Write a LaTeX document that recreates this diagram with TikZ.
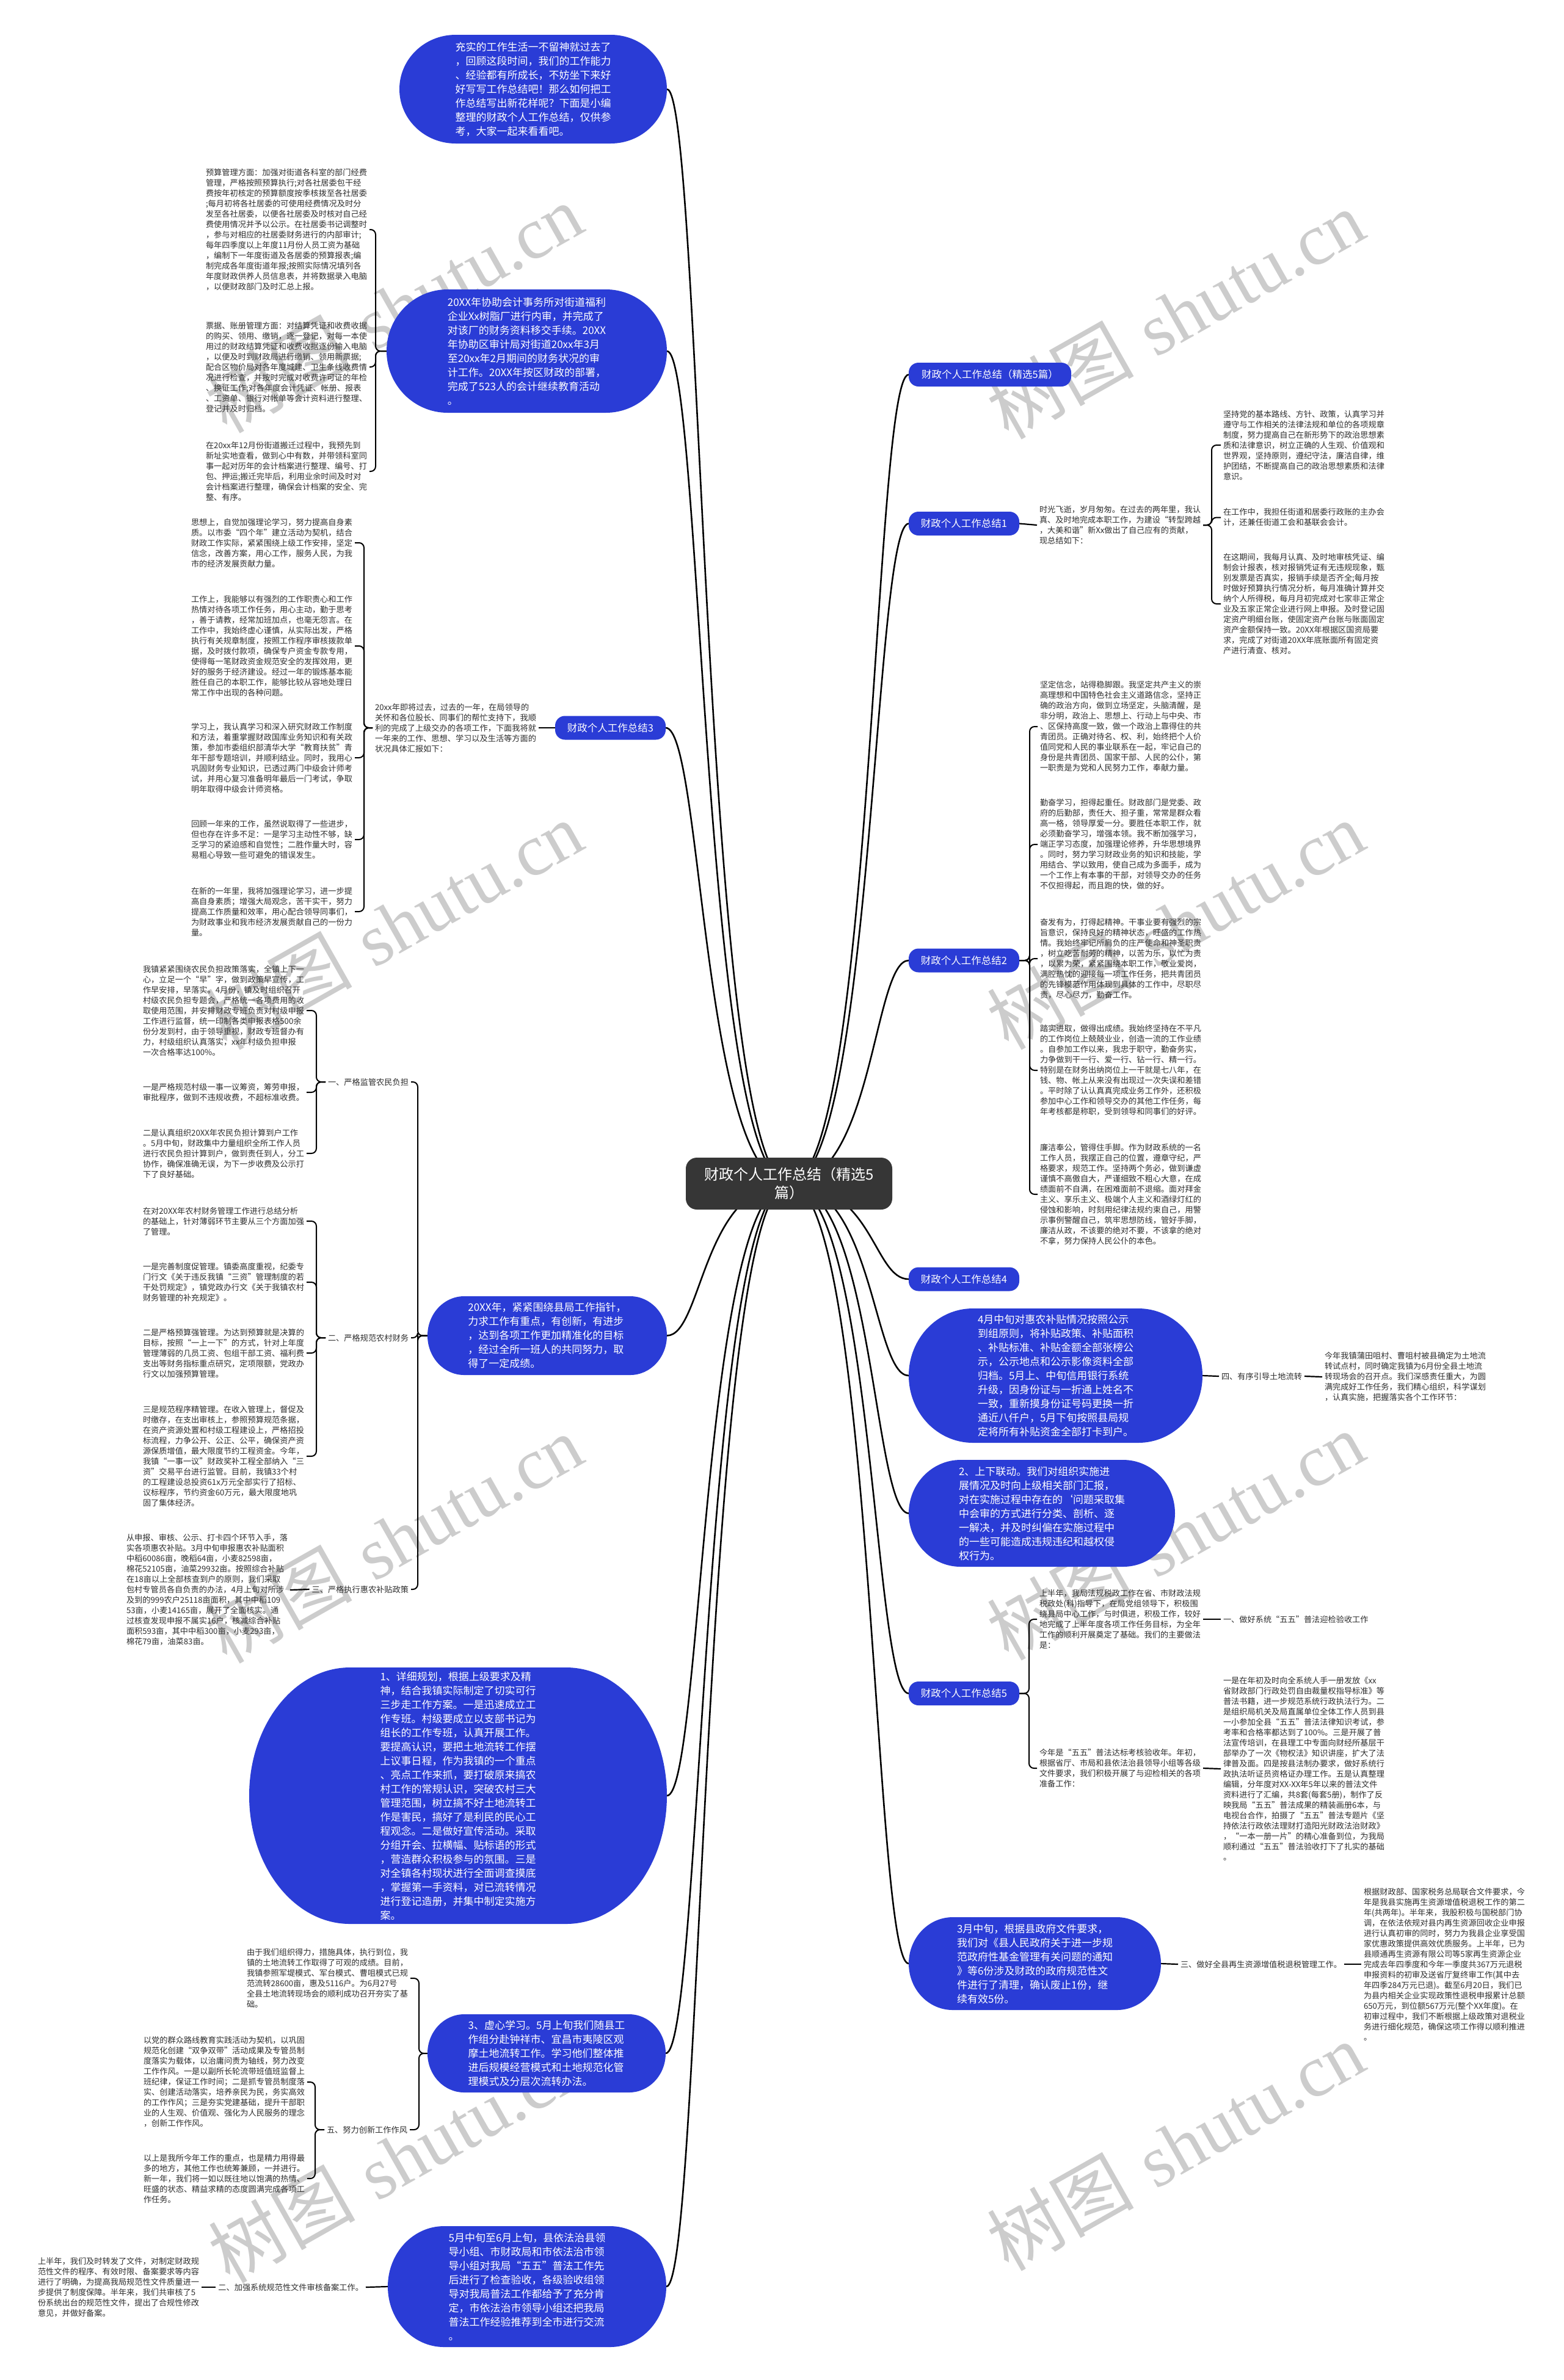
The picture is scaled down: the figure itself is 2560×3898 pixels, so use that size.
\documentclass[tikz,border=0pt]{standalone}
\usepackage{fontspec}
\setmainfont{Noto Sans CJK SC}
\newfontfamily\wmserif{Liberation Serif}
\usetikzlibrary{calc}
\definecolor{mblue}{HTML}{2A3CD6}
\definecolor{cdark}{HTML}{363636}
\definecolor{tgray}{HTML}{2E2E2E}
\pgfdeclarelayer{wm}
\pgfdeclarelayer{bg}
\pgfsetlayers{wm,bg,main}
\newcommand\blob[7]{%
  \pgfmathsetmacro\bym{(#3+#5)/2}%
  \pgfmathsetmacro\byr{(#5-#3)/2}%
  \pgfmathsetmacro\bk{0.5523*#6}%
  \pgfmathsetmacro\bkk{0.5523*\byr}%
  \fill[mblue] (#2+#6,#3) -- (#4-#6,#3)
    .. controls (#4-#6+\bk,#3) and (#4,\bym-\bkk) .. (#4,\bym)
    .. controls (#4,\bym+\bkk) and (#4-#6+\bk,#5) .. (#4-#6,#5)
    -- (#2+#6,#5)
    .. controls (#2+#6-\bk,#5) and (#2,\bym+\bkk) .. (#2,\bym)
    .. controls (#2,\bym-\bkk) and (#2+#6-\bk,#3) .. (#2+#6,#3) -- cycle;
  \node[btxt, minimum width={#4-#2}, minimum height={#5-#3}] (#1) at ({(#2+#4)/2},\bym) {#7};
}
\begin{document}
\begin{tikzpicture}[x=1pt,y=-1pt,
  txt/.style={font=\fontsize{13.2}{17}\selectfont, align=left, inner sep=0pt, outer sep=4pt, text=tgray},
  btxt/.style={font=\fontsize{17}{23}\selectfont, align=left, text=white, inner sep=0pt, outer sep=0pt},
  lab/.style={fill=mblue, text=white, rounded corners=16pt, font=\fontsize{16.5}{20}\selectfont, inner sep=0pt, minimum height=39pt, outer sep=0pt},
  ctrbox/.style={fill=cdark, text=white, rounded corners=18pt, font=\fontsize{24}{30}\selectfont, align=center, inner sep=0pt, minimum width=338pt, minimum height=85pt},
  wmk/.style={text=black!20, font=\fontsize{120}{130}\selectfont, inner sep=0pt},
  conn/.style={draw=black, line width=2.6pt},
  brk/.style={draw=black, line width=2pt, rounded corners=8pt},
  lnk/.style={draw=black, line width=2.2pt}
]
\useasboundingbox (0,0) rectangle (2560,3898);
\begin{pgfonlayer}{wm}
\fill[white] (0,0) rectangle (2560,3898);
\foreach \wx/\wy in {645/505,1925/515,645/1515,1925/1515,645/2520,1925/2515,650/3535,1925/3515}{
  \node[wmk, rotate=29.5] at (\wx,\wy) {树图\hspace{0.3em}{\wmserif shutu.cn}};
}
\end{pgfonlayer}

% ---------- center ----------
\node[ctrbox] (ctr) at (1292,1938.5) {财政个人工作总结（精选5\\篇）};

% ---------- right side ----------
\node[lab, minimum width=266pt] (R0) at (1621,613.5) {财政个人工作总结（精选5篇）};

\node[lab, minimum width=181pt] (R1) at (1578.5,857.5) {财政个人工作总结1};
\node[txt, anchor=west] (T1) at (1698,860) {时光飞逝，岁月匆匆。在过去的两年里，我认\\真、及时地完成本职工作，为建设“转型跨越\\，大美和谐”新Xx做出了自己应有的贡献，\\现总结如下：};
\node[txt, anchor=west] (C1a) at (1999,729) {坚持党的基本路线、方针、政策，认真学习并\\遵守与工作相关的法律法规和单位的各项规章\\制度，努力提高自己在新形势下的政治思想素\\质和法律意识，树立正确的人生观、价值观和\\世界观，坚持原则，遵纪守法，廉洁自律，维\\护团结，不断提高自己的政治思想素质和法律\\意识。};
\node[txt, anchor=west] (C1b) at (1999,847.5) {在工作中，我担任街道和居委行政账的主办会\\计，还兼任街道工会和基联会会计。};
\node[txt, anchor=west] (C1c) at (1999,989) {在这期间，我每月认真、及时地审核凭证、编\\制会计报表，核对报销凭证有无违规现象，甄\\别发票是否真实，报销手续是否齐全;每月按\\时做好预算执行情况分析，每月准确计算并交\\纳个人所得税，每月月初完成对七家非正常企\\业及五家正常企业进行网上申报。及时登记固\\定资产明细台账，使固定资产台账与账面固定\\资产金额保持一致。20XX年根据区国资局要\\求，完成了对街道20XX年底账面所有固定资\\产进行清查、核对。};

\node[lab, minimum width=181pt] (R2) at (1578.5,1573) {财政个人工作总结2};
\node[txt, anchor=west] (C2a) at (1699,1190) {坚定信念，站得稳脚跟。我坚定共产主义的崇\\高理想和中国特色社会主义道路信念，坚持正\\确的政治方向，做到立场坚定，头脑清醒，是\\非分明，政治上、思想上、行动上与中央、市\\、区保持高度一致，做一个政治上靠得住的共\\青团员。正确对待名、权、利，始终把个人价\\值同党和人民的事业联系在一起，牢记自己的\\身份是共青团员、国家干部、人民的公仆，第\\一职责是为党和人民努力工作，奉献力量。};
\node[txt, anchor=west] (C2b) at (1699,1383) {勤奋学习，担得起重任。财政部门是党委、政\\府的后勤部，责任大、担子重，常常是群众看\\高一格，领导厚爱一分。要胜任本职工作，就\\必须勤奋学习，增强本领。我不断加强学习，\\端正学习态度，加强理论修养，升华思想境界\\。同时，努力学习财政业务的知识和技能，学\\用结合、学以致用，使自己成为多面手，成为\\一个工作上有本事的干部，对领导交办的任务\\不仅担得起，而且跑的快，做的好。};
\node[txt, anchor=west] (C2c) at (1699,1570) {奋发有为，打得起精神。干事业要有强烈的宗\\旨意识，保持良好的精神状态，旺盛的工作热\\情。我始终牢记所肩负的庄严使命和神圣职责\\，树立吃苦耐劳的精神，以苦为乐，以忙为责\\，以累为荣，紧紧围绕本职工作，敬业爱岗，\\满腔热忱的迎接每一项工作任务，把共青团员\\的先锋模范作用体现到具体的工作中，尽职尽\\责，尽心尽力，勤奋工作。};
\node[txt, anchor=west] (C2d) at (1699,1753) {踏实进取，做得出成绩。我始终坚持在不平凡\\的工作岗位上兢兢业业，创造一流的工作业绩\\。自参加工作以来，我忠于职守，勤奋务实，\\力争做到干一行、爱一行、钻一行、精一行。\\特别是在财务出纳岗位上一干就是七八年，在\\钱、物、帐上从来没有出现过一次失误和差错\\。平时除了认认真真完成业务工作外，还积极\\参加中心工作和领导交办的其他工作任务，每\\年考核都是称职，受到领导和同事们的好评。};
\node[txt, anchor=west] (C2e) at (1699,1956) {廉洁奉公，管得住手脚。作为财政系统的一名\\工作人员，我摆正自己的位置，遵章守纪，严\\格要求，规范工作。坚持两个务必，做到谦虚\\谨慎不高傲自大，严谨细致不粗心大意，在成\\绩面前不自满，在困难面前不退缩。面对拜金\\主义、享乐主义、极端个人主义和酒绿灯红的\\侵蚀和影响，时刻用纪律法规约束自己，用警\\示事例警醒自己，筑牢思想防线，管好手脚，\\廉洁从政，不该要的绝对不要，不该拿的绝对\\不拿，努力保持人民公仆的本色。};

\node[lab, minimum width=181pt] (R4) at (1578.5,2095) {财政个人工作总结4};

\blob{B4}{1488}{2143}{1969}{2363}{105}{4月中旬对惠农补贴情况按照公示\\到组原则，将补贴政策、补贴面积\\、补贴标准、补贴金额全部张榜公\\示，公示地点和公示影像资料全部\\归档。5月上、中旬信用银行系统\\升级，因身份证与一折通上姓名不\\一致，重新摸身份证号码更换一折\\通近八仟户，5月下旬按照县局规\\定将所有补贴资金全部打卡到户。}
\node[txt, anchor=west] (L4a) at (1996,2254) {四、有序引导土地流转};
\node[txt, anchor=west] (T4a) at (2165,2255) {今年我镇蒲田咀村、曹咀村被县确定为土地流\\转试点村，同时确定我镇为6月份全县土地流\\转现场会的召开点。我们深感责任重大，为圆\\满完成好工作任务，我们精心组织，科学谋划\\，认真实施，把握落实各个工作环节：};

\blob{B2}{1488}{2391}{1924}{2566}{85}{2、上下联动。我们对组织实施进\\展情况及时向上级相关部门汇报，\\对在实施过程中存在的`问题采取集\\中会审的方式进行分类、剖析、逐\\一解决，并及时纠偏在实施过程中\\的一些可能造成违规违纪和越权侵\\权行为。}

\node[lab, minimum width=181pt] (R5) at (1578.5,2773.5) {财政个人工作总结5};
\node[txt, anchor=west] (C5a) at (1698,2652) {上半年，我局法规税政工作在省、市财政法规\\税政处(科)指导下，在局党组领导下，积极围\\绕县局中心工作，与时俱进，积极工作，较好\\地完成了上半年度各项工作任务目标，为全年\\工作的顺利开展奠定了基础。我们的主要做法\\是：};
\node[txt, anchor=west] (L5a) at (1999,2652) {一、做好系统“五五”普法迎检验收工作};
\node[txt, anchor=west] (C5b) at (1698,2896) {今年是“五五”普法达标考核验收年。年初，\\根据省厅、市局和县依法治县领导小组等各级\\文件要求，我们积极开展了与迎检相关的各项\\准备工作：};
\node[txt, anchor=west] (T5b) at (1999,2897) {一是在年初及时向全系统人手一册发放《xx\\省财政部门行政处罚自由裁量权指导标准》等\\普法书籍，进一步规范系统行政执法行为。二\\是组织局机关及局直属单位全体工作人员到县\\一小参加全县“五五”普法法律知识考试，参\\考率和合格率都达到了100\%。三是开展了普\\法宣传培训，在县理工中专面向财经所基层干\\部举办了一次《物权法》知识讲座，扩大了法\\律普及面。四是按县法制办要求，做好系统行\\政执法听证员资格证办理工作。五是认真整理\\编辑，分年度对XX-XX年5年以来的普法文件\\资料进行了汇编，共8套(每套5册)，制作了反\\映我局“五五”普法成果的精装画册6本，与\\电视台合作，拍摄了“五五”普法专题片《坚\\持依法行政依法理财打造阳光财政法治财政》\\，“一本一册一片”的精心准备到位，为我局\\顺利通过“五五”普法验收打下了扎实的基础\\。};

\blob{B3}{1488}{3140}{1901}{3292}{72}{3月中旬，根据县政府文件要求，\\我们对《县人民政府关于进一步规\\范政府性基金管理有关问题的通知\\》等6份涉及财政的政府规范性文\\件进行了清理，确认废止1份，继\\续有效5份。}
\node[txt, anchor=west] (L3a) at (1929,3217) {三、做好全县再生资源增值税退税管理工作。};
\node[txt, anchor=west] (T3a) at (2229,3217) {根据财政部、国家税务总局联合文件要求，今\\年是我县实施再生资源增值税退税工作的第二\\年(共两年)。半年来，我股积极与国税部门协\\调，在依法依规对县内再生资源回收企业申报\\进行认真初审的同时，努力为我县企业享受国\\家优惠政策提供高效优质服务。上半年，已为\\县顺通再生资源有限公司等5家再生资源企业\\完成去年四季度和今年一季度共367万元退税\\申报资料的初审及送省厅复终审工作(其中去\\年四季284万元已退)。截至6月20日，我们已\\为县内相关企业实现政策性退税申报累计总额\\650万元，到位额567万元(整个XX年度)。在\\初审过程中，我们不断根据上级政策对退税业\\务进行细化规范，确保这项工作得以顺利推进\\。};

% ---------- left side ----------
\blob{BT}{654}{57}{1092}{235}{92}{充实的工作生活一不留神就过去了\\，回顾这段时间，我们的工作能力\\、经验都有所成长，不妨坐下来好\\好写写工作总结吧！那么如何把工\\作总结写出新花样呢？下面是小编\\整理的财政个人工作总结，仅供参\\考，大家一起来看看吧。}

\blob{BA}{633}{474}{1092}{676}{100}{20XX年协助会计事务所对街道福利\\企业Xx树脂厂进行内审，并完成了\\对该厂的财务资料移交手续。20XX\\年协助区审计局对街道20xx年3月\\至20xx年2月期间的财务状况的审\\计工作。20XX年按区财政的部署，\\完成了523人的会计继续教育活动\\。}
\node[txt, anchor=east] (CAa) at (605,376) {预算管理方面：加强对街道各科室的部门经费\\管理，严格按照预算执行;对各社居委包干经\\费按年初核定的预算额度按季核拨至各社居委\\;每月初将各社居委的可使用经费情况及时分\\发至各社居委，以便各社居委及时核对自己经\\费使用情况并予以公示。在社居委书记调整时\\，参与对相应的社居委财务进行的内部审计;\\每年四季度以上年度11月份人员工资为基础\\，编制下一年度街道及各居委的预算报表;编\\制完成各年度街道年报;按照实际情况填列各\\年度财政供养人员信息表，并将数据录入电脑\\，以便财政部门及时汇总上报。};
\node[txt, anchor=east] (CAb) at (605,601) {票据、账册管理方面：对结算凭证和收费收据\\的购买、领用、缴销，逐一登记，对每一本使\\用过的财政结算凭证和收费收据逐份输入电脑\\，以便及时到财政局进行缴销、领用新票据;\\配合区物价局对各年度城建、卫生条线收费情\\况进行检查，并按时完成对收费许可证的年检\\、换证工作;对各年度会计凭证、帐册、报表\\、工资单、银行对帐单等会计资料进行整理、\\登记并及时归档。};
\node[txt, anchor=east] (CAc) at (605,772) {在20xx年12月份街道搬迁过程中，我预先到\\新址实地查看，做到心中有数，并带领科室同\\事一起对历年的会计档案进行整理、编号、打\\包、押运;搬迁完毕后，利用业余时间及时对\\会计档案进行整理，确保会计档案的安全、完\\整、有序。};

\node[lab, minimum width=181pt] (L3) at (999.5,1192) {财政个人工作总结3};
\node[txt, anchor=west] (T3) at (610,1192) {20xx年即将过去，过去的一年，在局领导的\\关怀和各位股长、同事们的帮忙支持下，我顺\\利的完成了上级交办的各项工作，下面我将就\\一年来的工作、思想、学习以及生活等方面的\\状况具体汇报如下：};
\node[txt, anchor=east] (C3a) at (581,889) {思想上，自觉加强理论学习，努力提高自身素\\质。以市委“四个年”建立活动为契机，结合\\财政工作实际，紧紧围绕上级工作安排，坚定\\信念，改善方案，用心工作，服务人民，为我\\市的经济发展贡献力量。};
\node[txt, anchor=east] (C3b) at (581,1058) {工作上，我能够以有强烈的工作职责心和工作\\热情对待各项工作任务，用心主动，勤于思考\\，善于请教，经常加班加点，也毫无怨言。在\\工作中，我始终虚心谨慎，从实际出发，严格\\执行有关规章制度，按照工作程序审核拨款单\\据，及时拨付款项，确保专户资金专款专用，\\使得每一笔财政资金规范安全的发挥效用，更\\好的服务于经济建设。经过一年的锻炼基本能\\胜任自己的本职工作，能够比较从容地处理日\\常工作中出现的各种问题。};
\node[txt, anchor=east] (C3c) at (581,1241) {学习上，我认真学习和深入研究财政工作制度\\和方法，着重掌握财政国库业务知识和有关政\\策，参加市委组织部清华大学“教育扶贫”青\\年干部专题培训，并顺利结业。同时，我用心\\巩固财务专业知识，已透过两门中级会计师考\\试，并用心复习准备明年最后一门考试，争取\\明年取得中级会计师资格。};
\node[txt, anchor=east] (C3d) at (581,1375) {回顾一年来的工作，虽然说取得了一些进步，\\但也存在许多不足：一是学习主动性不够，缺\\乏学习的紧迫感和自觉性；二胜作量大时，容\\易粗心导致一些可避免的错误发生。};
\node[txt, anchor=east] (C3e) at (581,1493) {在新的一年里，我将加强理论学习，进一步提\\高自身素质；增强大局观念，苦干实干，努力\\提高工作质量和效率，用心配合领导同事们，\\为财政事业和我市经济发展贡献自己的一份力\\量。};

\blob{BL}{700}{2123}{1092}{2252}{60}{20XX年，紧紧围绕县局工作指针，\\力求工作有重点，有创新，有进步\\，达到各项工作更加精准化的目标\\，经过全所一班人的共同努力，取\\得了一定成绩。}
\node[txt, anchor=east] (LA1) at (673,1772) {一、严格监管农民负担};
\node[txt, anchor=east] (LA2) at (673,2191) {二、严格规范农村财务};
\node[txt, anchor=east] (LA3) at (673,2603) {三、严格执行惠农补贴政策};
\node[txt, anchor=east] (CL1a) at (502,1655) {我镇紧紧围绕农民负担政策落实，全镇上下一\\心，立足一个“早”字，做到政策早宣传，工\\作早安排，早落实。4月份，镇及时组织召开\\村级农民负担专题会，严格统一各项费用的收\\取使用范围，并安排财政专班负责对村级申报\\工作进行监督，统一印制各类申报表格500余\\份分发到村，由于领导重视，财政专班督办有\\力，村级组织认真落实，xx年村级负担申报\\一次合格率达100\%。};
\node[txt, anchor=east] (CL1b) at (502,1789) {一是严格规范村级一事一议筹资，筹劳申报，\\审批程序，做到不违规收费，不超标准收费。};
\node[txt, anchor=east] (CL1c) at (502,1889) {二是认真组织20XX年农民负担计算到户工作\\。5月中旬，财政集中力量组织全所工作人员\\进行农民负担计算到户，做到责任到人，分工\\协作，确保准确无误，为下一步收费及公示打\\下了良好基础。};
\node[txt, anchor=east] (CL2a) at (502,2000) {在对20XX年农村财务管理工作进行总结分析\\的基础上，针对薄弱环节主要从三个方面加强\\了管理。};
\node[txt, anchor=east] (CL2b) at (502,2100) {一是完善制度促管理。镇委高度重视，纪委专\\门行文《关于违反我镇“三资”管理制度的若\\干处罚规定》，镇党政办行文《关于我镇农村\\财务管理的补充规定》。};
\node[txt, anchor=east] (CL2c) at (502,2216) {二是严格预算强管理。为达到预算就是决算的\\目标，按照“一上一下”的方式，针对上年度\\管理薄弱的几员工资、包组干部工资、福利费\\支出等财务指标重点研究，定项限额，党政办\\行文以加强预算管理。};
\node[txt, anchor=east] (CL2d) at (502,2385) {三是规范程序精管理。在收入管理上，督促及\\时缴存，在支出审核上，参照预算规范条据，\\在资产资源处置和村级工程建设上，严格招投\\标流程，力争公开、公正、公平，确保资产资\\源保质增值，最大限度节约工程资金。今年，\\我镇“一事一议”财政奖补工程全部纳入“三\\资”交易平台进行监管。目前，我镇33个村\\的工程建设总投资61x万元全部实行了招标、\\议标程序，节约资金60万元，最大限度地巩\\固了集体经济。};
\node[txt, anchor=east] (CL3) at (475,2604) {从申报、审核、公示、打卡四个环节入手，落\\实各项惠农补贴。3月中旬申报惠农补贴面积\\中稻60086亩，晚稻64亩，小麦82598亩，\\棉花52105亩，油菜29932亩。按照综合补贴\\在18亩以上全部核查到户的原则，我们采取\\包村专管员各自负责的办法，4月上旬对所涉\\及到的999农户25118亩面积，其中中稻109\\53亩，小麦14165亩，展开了全面核实。通\\过核查发现申报不属实16户，核减综合补贴\\面积593亩，其中中稻300亩，小麦293亩，\\棉花79亩，油菜83亩。};

\blob{BB}{408}{2731}{1092}{3151}{165}{1、详细规划，根据上级要求及精\\神，结合我镇实际制定了切实可行\\三步走工作方案。一是迅速成立工\\作专班。村级要成立以支部书记为\\组长的工作专班，认真开展工作。\\要提高认识，要把土地流转工作摆\\上议事日程，作为我镇的一个重点\\、亮点工作来抓，要打破原来搞农\\村工作的常规认识，突破农村三大\\管理范围，树立搞不好土地流转工\\作是害民，搞好了是利民的民心工\\程观念。二是做好宣传活动。采取\\分组开会、拉横幅、贴标语的形式\\，营造群众积极参与的氛围。三是\\对全镇各村现状进行全面调查摸底\\，掌握第一手资料，对已流转情况\\进行登记造册，并集中制定实施方\\案。}

\blob{BV}{700}{3299}{1090}{3427}{60}{3、虚心学习。5月上旬我们随县工\\作组分赴钟祥市、宜昌市夷陵区观\\摩土地流转工作。学习他们整体推\\进后规模经营模式和土地规范化管\\理模式及分层次流转办法。}
\node[txt, anchor=east] (CV1) at (672,3240) {由于我们组织得力，措施具体，执行到位，我\\镇的土地流转工作取得了可观的成绩。目前，\\我镇参照军堤模式、军台模式、曹咀模式已规\\范流转28600亩，惠及5116户。为6月27号\\全县土地流转现场会的顺利成功召开夯实了基\\础。};
\node[txt, anchor=east] (LV2) at (671,3488) {五、努力创新工作作风};
\node[txt, anchor=east] (CV2a) at (503,3410) {以党的群众路线教育实践活动为契机，以巩固\\规范化创建“双争双带”活动成果及专管员制\\度落实为载体，以治庸问责为轴线，努力改变\\工作作风。一是以副所长轮流带班值班监督上\\班纪律，保证工作时间；二是抓专管员制度落\\实、创建活动落实，培养亲民为民，务实高效\\的工作作风；三是夯实党建基础，提升干部职\\业的人生观、价值观、强化为人民服务的理念\\，创新工作作风。};
\node[txt, anchor=east] (CV2b) at (503,3568) {以上是我所今年工作的重点，也是精力用得最\\多的地方，其他工作也统筹兼顾，一并进行。\\新一年，我们将一如以既往地以饱满的热情、\\旺盛的状态、精益求精的态度圆满完成各项工\\作任务。};

\blob{BF}{635}{3646}{1091}{3844}{92}{5月中旬至6月上旬，县依法治县领\\导小组、市财政局和市依法治市领\\导小组对我局“五五”普法工作先\\后进行了检查验收，各级验收组领\\导对我局普法工作都给予了充分肯\\定，市依法治市领导小组还把我局\\普法工作经验推荐到全市进行交流\\。}
\node[txt, anchor=east] (LF) at (599,3746) {二、加强系统规范性文件审核备案工作。};
\node[txt, anchor=east] (TF) at (330,3746) {上半年，我们及时转发了文件，对制定财政规\\范性文件的程序、有效时限、备案要求等内容\\进行了明确，为提高我局规范性文件质量进一\\步提供了制度保障。半年来，我们共审核了5\\份系统出台的规范性文件，提出了合规性修改\\意见，并做好备案。};

% ---------- connectors ----------
\begin{pgfonlayer}{bg}
% center to right
\draw[conn] (ctr.center) .. controls (1430,1938) and (1430,613.5) .. (R0.west);
\draw[conn] (ctr.center) .. controls (1430,1938) and (1430,857.5) .. (R1.west);
\draw[conn] (ctr.center) .. controls (1430,1938) and (1430,1573) .. (R2.west);
\draw[conn] (ctr.center) .. controls (1430,1938) and (1430,2095) .. (R4.west);
\draw[conn] (ctr.center) .. controls (1430,1938) and (1430,2253) .. (B4.west);
\draw[conn] (ctr.center) .. controls (1430,1938) and (1430,2478) .. (B2.west);
\draw[conn] (ctr.center) .. controls (1430,1938) and (1430,2773.5) .. (R5.west);
\draw[conn] (ctr.center) .. controls (1430,1938) and (1430,3216) .. (B3.west);
% center to left
\draw[conn] (ctr.center) .. controls (1150,1938) and (1150,146) .. (BT.east);
\draw[conn] (ctr.center) .. controls (1150,1938) and (1150,575) .. (BA.east);
\draw[conn] (ctr.center) .. controls (1150,1938) and (1150,1192) .. (L3.east);
\draw[conn] (ctr.center) .. controls (1150,1938) and (1150,2187.5) .. (BL.east);
\draw[conn] (ctr.center) .. controls (1150,1938) and (1150,2941) .. (BB.east);
\draw[conn] (ctr.center) .. controls (1150,1938) and (1150,3363) .. (BV.east);
\draw[conn] (ctr.center) .. controls (1150,1938) and (1150,3745) .. (BF.east);
% right subtrees
\draw[lnk] (R1.east) -- (T1.west);
\foreach \c in {C1a,C1b,C1c} \draw[brk] (T1.east) -- ++(14,0) |- (\c.west);
\foreach \c in {C2a,C2b,C2c,C2d,C2e} \draw[brk] (R2.east) -- ++(17,0) |- (\c.west);
\draw[lnk] (B4.east) -- (L4a.west);
\draw[lnk] (L4a.east) -- (T4a.west);
\foreach \c in {C5a,C5b} \draw[brk] (R5.east) -- ++(16,0) |- (\c.west);
\draw[lnk] (C5a.east) -- (L5a.west);
\draw[lnk] (C5b.east) -- (T5b.west);
\draw[lnk] (B3.east) -- (L3a.west);
\draw[lnk] (L3a.east) -- (T3a.west);
% left subtrees
\foreach \c in {CAa,CAb,CAc} \draw[brk] (BA.west) -- ++(-18,0) |- (\c.east);
\draw[lnk] (L3.west) -- (T3.east);
\foreach \c in {C3a,C3b,C3c,C3d,C3e} \draw[brk] (T3.west) -- ++(-14,0) |- (\c.east);
\foreach \c in {LA1,LA2,LA3} \draw[brk] (BL.west) -- ++(-16,0) |- (\c.east);
\foreach \c in {CL1a,CL1b,CL1c} \draw[brk] (LA1.west) -- ++(-15,0) |- (\c.east);
\foreach \c in {CL2a,CL2b,CL2c,CL2d} \draw[brk] (LA2.west) -- ++(-15,0) |- (\c.east);
\draw[lnk] (LA3.west) -- (CL3.east);
\foreach \c in {CV1,LV2} \draw[brk] (BV.west) -- ++(-14,0) |- (\c.east);
\foreach \c in {CV2a,CV2b} \draw[brk] (LV2.west) -- ++(-15,0) |- (\c.east);
\draw[lnk] (BF.west) -- (LF.east);
\draw[lnk] (LF.west) -- (TF.east);
\end{pgfonlayer}
\end{tikzpicture}
\end{document}
